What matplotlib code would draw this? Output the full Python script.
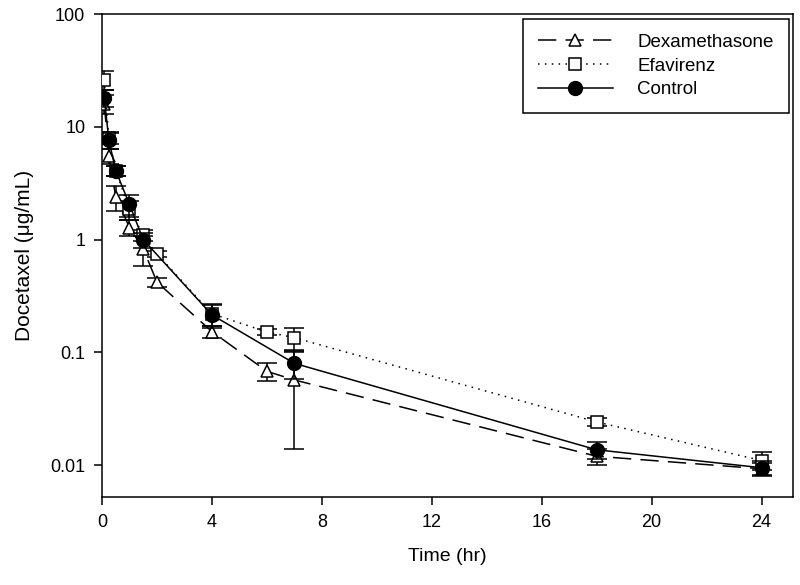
import matplotlib
matplotlib.use('Agg')
import matplotlib.pyplot as plt
from matplotlib.ticker import FixedLocator, FixedFormatter, NullLocator
from matplotlib.lines import Line2D
import numpy as np

plt.rcParams['font.family'] = ['Liberation Sans', 'DejaVu Sans']

# time points (hr) and mean concentrations (ug/mL) with SD
t_dex = [0.083, 0.25, 0.5, 1, 1.5, 2, 4, 6, 7, 18, 24]
c_dex = [16.0, 5.5, 2.4, 1.28, 0.83, 0.42, 0.153, 0.068, 0.057, 0.012, 0.0093]
e_dex = [3.0, 0.8, 0.6, 0.2, 0.25, 0.04, 0.02, 0.012, 0.043, 0.002, 0.0012]

t_efa = [0.083, 0.25, 0.5, 1, 1.5, 2, 4, 6, 7, 18, 24]
c_efa = [26.0, 8.0, 4.1, 1.85, 1.1, 0.75, 0.22, 0.152, 0.135, 0.0242, 0.011]
e_efa = [5.0, 1.0, 0.4, 0.35, 0.12, 0.05, 0.05, 0.01, 0.03, 0.002, 0.002]

t_ctl = [0.083, 0.25, 0.5, 1, 1.5, 4, 7, 18, 24]
c_ctl = [18.0, 7.6, 4.1, 2.05, 1.0, 0.215, 0.08, 0.0137, 0.0095]
e_ctl = [3.0, 1.2, 0.4, 0.45, 0.15, 0.05, 0.022, 0.0023, 0.0013]

fig = plt.figure(figsize=(8, 5.85), dpi=100)
ax = fig.add_axes([0.1275, 0.150, 0.864, 0.826])

eb = dict(ecolor='black', elinewidth=1.1, capsize=7, capthick=1.1)
dex_style = dict(color='black', lw=1.1, dashes=(12, 6), marker='^', ms=9,
                 mfc='white', mec='black', mew=1.1)
efa_style = dict(color='black', lw=1.1, dashes=(1, 3.5), marker='s', ms=9,
                 mfc='white', mec='black', mew=1.1)
ctl_style = dict(color='black', lw=1.1, ls='-', marker='o', ms=10,
                 mfc='black', mec='black')

ax.errorbar(t_dex, c_dex, yerr=e_dex, zorder=3, **dex_style, **eb)
ax.errorbar(t_efa, c_efa, yerr=e_efa, zorder=3, **efa_style, **eb)
ax.errorbar(t_ctl, c_ctl, yerr=e_ctl, zorder=4, **ctl_style, **eb)

ax.set_yscale('log')
ax.set_ylim(0.0052, 100)
ax.set_xlim(0, 25.15)

ax.yaxis.set_major_locator(FixedLocator([0.01, 0.1, 1, 10, 100]))
ax.yaxis.set_major_formatter(FixedFormatter(['0.01', '0.1', '1', '10', '100']))
ax.yaxis.set_minor_locator(NullLocator())
ax.set_xticks([0, 4, 8, 12, 16, 20, 24])

ax.tick_params(direction='out', length=6, width=1.1, labelsize=13, pad=6,
               top=False, right=False)
for s in ax.spines.values():
    s.set_linewidth(1.1)

ax.set_xlabel('Time (hr)', fontsize=14, labelpad=12)
ax.set_ylabel('Docetaxel (\u03bcg/mL)', fontsize=15, labelpad=12)

handles = [Line2D([], [], **dex_style), Line2D([], [], **efa_style), Line2D([], [], **ctl_style)]
labels = ['Dexamethasone', 'Efavirenz', 'Control']
leg = ax.legend(handles, labels, loc='upper right', fontsize=13.5, handlelength=4.0,
                handletextpad=1.3, fancybox=False, edgecolor='black', framealpha=1,
                borderpad=0.8, labelspacing=0.35, borderaxespad=0.25)
leg.get_frame().set_linewidth(1.1)

fig.savefig('out.png', dpi=100)
